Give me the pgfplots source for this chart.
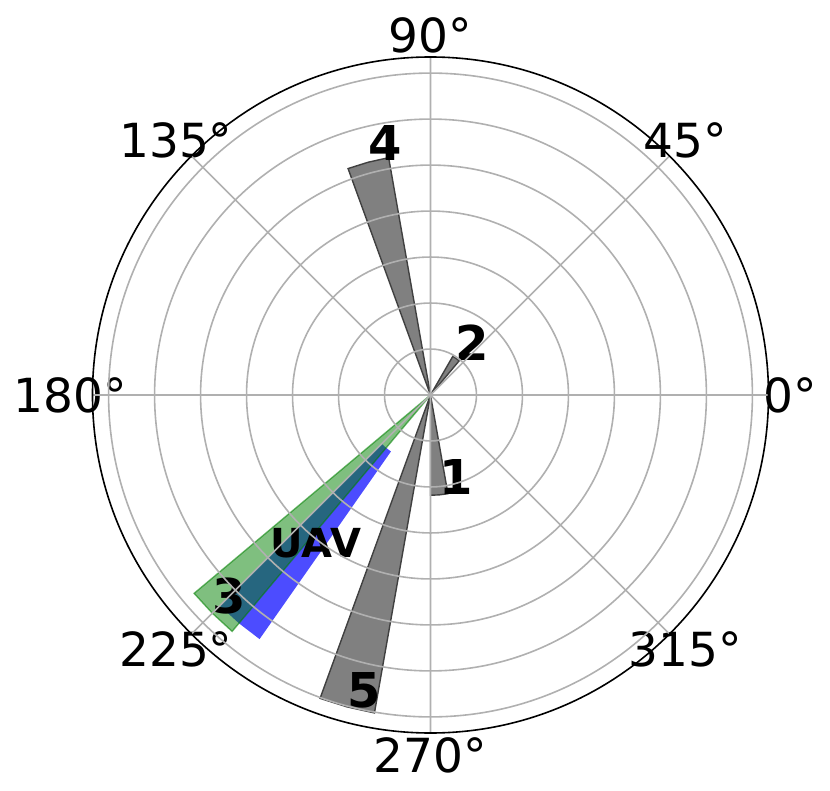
\documentclass[border=0pt]{standalone}
\usepackage{fontspec}
\setmainfont{DejaVu Sans}
\usepackage{pgfplots}
\pgfplotsset{compat=1.18}
\usepgfplotslibrary{polar}
\definecolor{gridgray}{RGB}{176,176,176}
\definecolor{mplgreen}{RGB}{0,128,0}
\definecolor{bargray}{RGB}{128,128,128}
\definecolor{baredge}{RGB}{64,64,64}
\newcommand{\tickfont}{\fontsize{23.5}{24}\selectfont}
\newcommand{\numfont}{\bfseries\fontsize{24}{24}\selectfont}
\begin{document}
\begin{tikzpicture}[x=1pt,y=1pt]
\path[use as bounding box] (-215.25,-198) rectangle (199.75,197.5);
\begin{polaraxis}[
  at={(0,0)}, anchor=center,
  scale only axis, width=338pt, height=338pt,
  ymin=0, ymax=7.35,
  xtick={0,45,...,315},
  ytick={1,2,3,4,5,6,7},
  xticklabels={}, yticklabels={},
  grid=major,
  major grid style={draw=gridgray, line width=0.8pt},
  separate axis lines,
  x axis line style={black, line width=0.8pt},
  y axis line style={draw=none},
  major tick length=0pt,
  axis on top,
  clip=false,
]
% gray bars
\addplot[fill=bargray, draw=baredge, line width=0.7pt] coordinates {(0,0) (270,2.18) (275,2.18) (280,2.18)} -- cycle;
\addplot[fill=bargray, draw=baredge, line width=0.7pt] coordinates {(0,0) (50,0.97) (55,0.97) (60,0.97)} -- cycle;
\addplot[fill=bargray, draw=baredge, line width=0.7pt] coordinates {(0,0) (100,5.24) (105,5.24) (110,5.24)} -- cycle;
\addplot[fill=bargray, draw=baredge, line width=0.7pt] coordinates {(0,0) (250,7.02) (255,7.02) (260,7.02)} -- cycle;
% blue bar (bottom 1.5)
\addplot[fill=blue, fill opacity=0.7, draw=none] coordinates {(225,1.5) (225,6.48) (230,6.48) (235,6.48) (235,1.5) (230,1.5)} -- cycle;
% green bar
\addplot[fill=mplgreen, fill opacity=0.5, draw=mplgreen, draw opacity=0.55, line width=0.7pt] coordinates {(0,0) (220,6.71) (225,6.71) (230,6.71)} -- cycle;
% bar labels
\node[font=\numfont] at (axis cs:100.25,5.56) {4};
\node[font=\numfont] at (axis cs:51.7,1.455) {2};
\node[font=\numfont] at (axis cs:287.6,1.88) {1};
\node[font=\numfont] at (axis cs:224.9,6.18) {3};
\node[font=\numfont] at (axis cs:257.4,6.57) {5};
\node[font=\bfseries\fontsize{20}{20}\selectfont] at (axis cs:232.3,4.08) {UAV};
% angle labels
\node[font=\tickfont] at (axis cs:0,7.83) {0°};
\node[font=\tickfont] at (axis cs:45,7.83) {45°};
\node[font=\tickfont] at (axis cs:90,7.83) {90°};
\node[font=\tickfont] at (axis cs:135,7.83) {135°};
\node[font=\tickfont] at (axis cs:180,7.83) {180°};
\node[font=\tickfont] at (axis cs:225,7.83) {225°};
\node[font=\tickfont] at (axis cs:270,7.83) {270°};
\node[font=\tickfont] at (axis cs:315,7.83) {315°};
\end{polaraxis}
\end{tikzpicture}
\end{document}
